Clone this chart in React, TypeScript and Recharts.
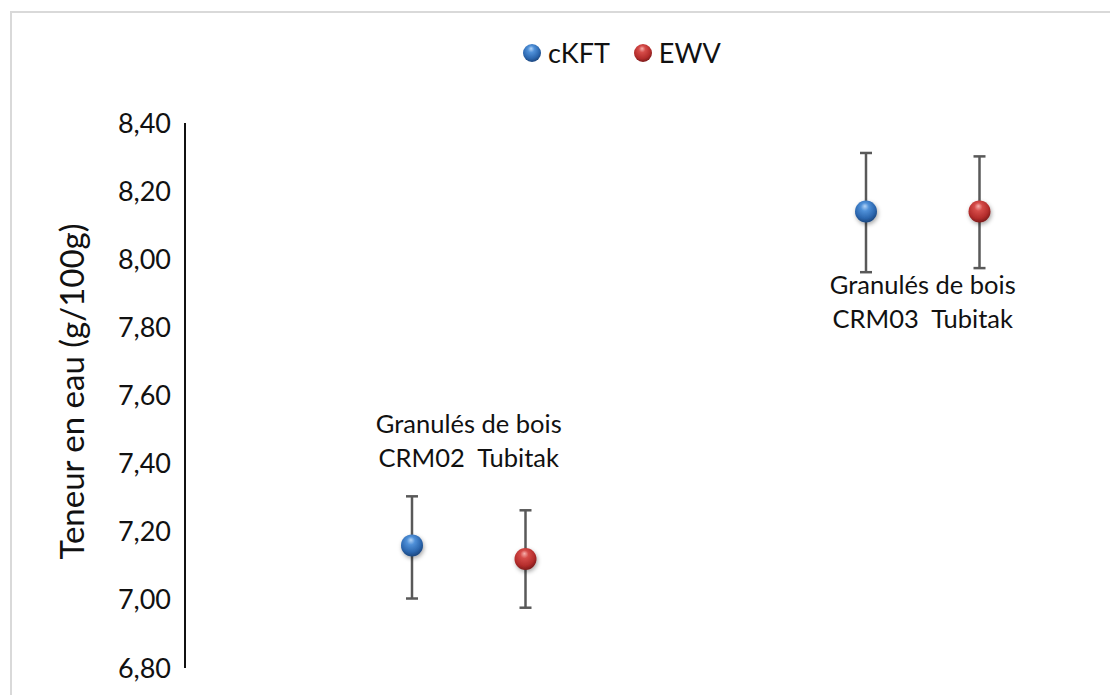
import React from "react";
import {
  ErrorBar,
  Legend,
  ReferenceDot,
  Scatter,
  ScatterChart,
  XAxis,
  YAxis,
} from "recharts";

// measured samples (g/100g)
const groups = ["CRM02", "CRM03"];
const groupTitle = "Granulés de bois";
const groupSuffix = "Tubitak";
const ckftX = [1, 5];
const ewvX = [2, 6];
const ckftValues = [7.16, 8.14];
const ckftErrors = [
  [0.156, 0.144],
  [0.178, 0.172],
];
const ewvValues = [7.12, 8.14];
const ewvErrors = [
  [0.143, 0.143],
  [0.166, 0.162],
];
const yTicks = [6.8, 7.0, 7.2, 7.4, 7.6, 7.8, 8.0, 8.2, 8.4];

const ckftData = groups.map((g, i) => ({ group: g, x: ckftX[i], y: ckftValues[i], err: ckftErrors[i] }));
const ewvData = groups.map((g, i) => ({ group: g, x: ewvX[i], y: ewvValues[i], err: ewvErrors[i] }));

// where the group captions sit, in px from the cKFT point
const captionOffset = [-112, 82];

const FONT = "Lato, 'Noto Sans', sans-serif";
const TEXT = "#111";

const series = [
  { name: "cKFT", grad: "blueBall" },
  { name: "EWV", grad: "redBall" },
];

function Ball(props: any) {
  const { cx, cy, grad } = props;
  if (cx == null || cy == null) return null;
  return (
    <g filter="url(#ballShadow)">
      <circle cx={cx} cy={cy} r={11} fill={`url(#${grad})`} />
    </g>
  );
}

function renderLegend() {
  return (
    <div style={{ display: "flex", alignItems: "center", fontSize: 27, lineHeight: 1, color: TEXT, fontFamily: FONT }}>
      {series.map((s, i) => (
        <div key={s.name} style={{ display: "flex", alignItems: "center", marginRight: i === 0 ? 23 : 0 }}>
          <svg width={20} height={20}>
            <circle cx={10} cy={10} r={9} fill={`url(#${s.grad})`} />
          </svg>
          <span style={{ marginLeft: 6 }}>{s.name}</span>
        </div>
      ))}
    </div>
  );
}

function Caption(props: any, idx: number) {
  const vb = props.viewBox || {};
  const x = vb.x + (vb.width || 0) / 2;
  const y = vb.y + (vb.height || 0) / 2 + captionOffset[idx];
  return (
    <g>
      <text x={x} y={y} textAnchor="middle" fontSize={25.5} fill={TEXT} fontFamily={FONT}>
        {groupTitle}
      </text>
      <text x={x} y={y + 34} textAnchor="middle" fontSize={25.5} fill={TEXT} fontFamily={FONT} style={{ whiteSpace: "pre" }}>
        {`${groups[idx]}  ${groupSuffix}`}
      </text>
    </g>
  );
}

function YTitle(props: any) {
  const vb = props.viewBox;
  const x = vb.x + 26;
  const y = vb.y + vb.height / 2 - 4;
  return (
    <text
      x={x}
      y={y}
      transform={`rotate(-90 ${x} ${y})`}
      textAnchor="middle"
      dominantBaseline="central"
      fontSize={33}
      fill={TEXT}
      fontFamily={FONT}
    >
      Teneur en eau (g/100g)
    </text>
  );
}

export default function App() {
  return (
    <div style={{ position: "relative", width: 1110, height: 687, overflow: "hidden", fontFamily: FONT }}>
      <div
        style={{
          position: "absolute",
          left: 2,
          top: 3,
          width: 1300,
          height: 900,
          border: "2px solid #d9d9d9",
        }}
      />
      <div style={{ position: "absolute", left: 0, top: 0 }}>
        <ScatterChart width={1110} height={700} margin={{ top: 115, right: 25, bottom: 40, left: 37 }}>
          <defs>
            <radialGradient id="blueBall" cx="45%" cy="38%" r="62%" fx="45%" fy="25%">
              <stop offset="0%" stopColor="#b3d4f7" />
              <stop offset="30%" stopColor="#4f90d8" />
              <stop offset="75%" stopColor="#2b66ae" />
              <stop offset="100%" stopColor="#1c477f" />
            </radialGradient>
            <radialGradient id="redBall" cx="45%" cy="38%" r="62%" fx="45%" fy="25%">
              <stop offset="0%" stopColor="#f7b0ad" />
              <stop offset="30%" stopColor="#d54b48" />
              <stop offset="75%" stopColor="#b32c2b" />
              <stop offset="100%" stopColor="#7d1b1b" />
            </radialGradient>
            <filter id="ballShadow" x="-60%" y="-60%" width="220%" height="220%">
              <feDropShadow dx="1" dy="2" stdDeviation="2" floodColor="#000" floodOpacity="0.35" />
            </filter>
          </defs>
          <XAxis type="number" dataKey="x" domain={[-1, 7]} hide />
          <YAxis
            type="number"
            dataKey="y"
            domain={[6.8, 8.4]}
            ticks={yTicks}
            width={140}
            axisLine={{ stroke: "#111", strokeWidth: 2 }}
            tickLine={false}
            tickSize={6}
            tickMargin={8}
            tick={{ fontSize: 27, fill: TEXT, fontFamily: FONT }}
            tickFormatter={(v: number) => v.toFixed(2).replace(".", ",")}
            label={<YTitle />}
          />
          <Legend
            layout="horizontal"
            verticalAlign="middle"
            align="center"
            content={renderLegend}
            wrapperStyle={{ left: 514, top: 31, width: "auto" }}
          />
          <Scatter name="cKFT" data={ckftData} isAnimationActive={false} shape={(p: any) => <Ball {...p} grad="blueBall" />}>
            <ErrorBar dataKey="err" direction="y" width={6} stroke="#595959" strokeWidth={2.5} />
          </Scatter>
          <Scatter name="EWV" data={ewvData} isAnimationActive={false} shape={(p: any) => <Ball {...p} grad="redBall" />}>
            <ErrorBar dataKey="err" direction="y" width={6} stroke="#595959" strokeWidth={2.5} />
          </Scatter>
          {groups.map((g, i) => (
            <ReferenceDot
              key={g}
              x={(ckftX[i] + ewvX[i]) / 2}
              y={ckftValues[i]}
              r={0}
              fill="none"
              stroke="none"
              label={(p: any) => Caption(p, i)}
            />
          ))}
        </ScatterChart>
      </div>
    </div>
  );
}
